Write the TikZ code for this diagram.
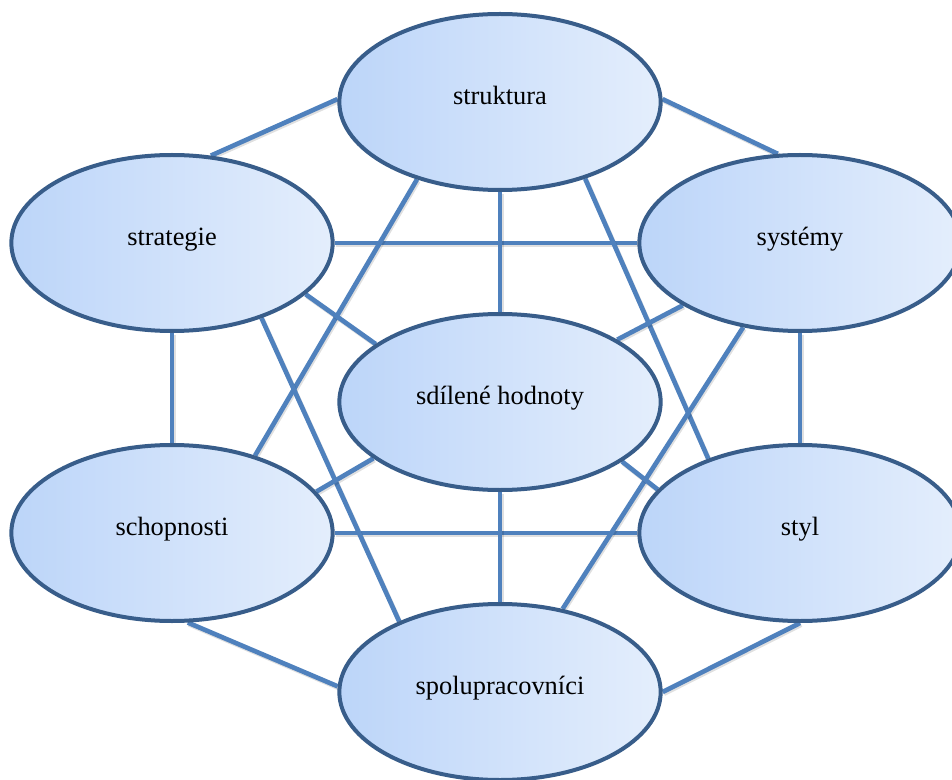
\documentclass[tikz,border=0pt]{standalone}
\usepackage{fontspec}
\setmainfont{Liberation Serif}
\usetikzlibrary{shapes.geometric,backgrounds}
\definecolor{ovaledge}{RGB}{56,93,138}
\definecolor{ovalleft}{RGB}{188,213,249}
\definecolor{ovalright}{RGB}{228,238,252}
\definecolor{linkblue}{RGB}{79,129,189}

\begin{document}
\begin{tikzpicture}[x=0.75pt,y=-0.75pt]
\tikzstyle{factor}=[ellipse,draw=ovaledge,line width=3pt,left color=ovalleft,right color=ovalright,minimum width=241pt,minimum height=132pt,inner sep=0pt,font=\fontsize{19.8}{24}\selectfont,text height=0.7em,text depth=0.33em]
\tikzstyle{link}=[draw=linkblue,line width=3.5pt,preaction={draw=black,opacity=0.12,line width=3.5pt,transform canvas={shift={(0.9pt,-1.3pt)}}}]

\useasboundingbox (0,0) rectangle (952,780);
\clip (0,0) rectangle (952,780);

\node at (500,102) [factor] (struktura) {struktura};
\node at (172,243) [factor] (strategie) {strategie};
\node at (800,243) [factor] (systemy) {systémy};

\node at (500,402) [factor] (hodnoty) {sdílené hodnoty};

\node at (172,533) [factor] (schopnosti) {schopnosti};
\node at (800,533) [factor] (styl) {styl};
\node at (500,692) [factor] (spolu) {spolupracovníci};

% connectors behind the ovals
\begin{scope}[on background layer]
\draw[link] (strategie.66) -- (struktura.179);
\draw[link] (struktura.1) -- (systemy.104);
\draw[link] (strategie.0) -- (systemy.180);
\draw[link] (strategie.-90) -- (schopnosti.90);
\draw[link] (systemy.-90) -- (styl.90);
\draw[link] (schopnosti.0) -- (styl.180);
\draw[link] (schopnosti.-80) -- (spolu.178);
\draw[link] (styl.-90) -- (spolu.0);

\draw[link] (struktura.-90) -- (hodnoty.90);
\draw[link] (hodnoty.-90) -- (spolu.90);

\draw[link] (struktura.223) -- (schopnosti.43);
\draw[link] (struktura.-42) -- (styl.141);
\draw[link] (strategie.-40) -- (spolu.145);
\draw[link] (systemy.236) -- (spolu.53);

\draw[link] (strategie.-21) -- (hodnoty.155);
\draw[link] (systemy.208) -- (hodnoty.28);
\draw[link] (schopnosti.16) -- (hodnoty.204);
\draw[link] (styl.163) -- (hodnoty.-26);
\end{scope}

\end{tikzpicture}
\end{document}
